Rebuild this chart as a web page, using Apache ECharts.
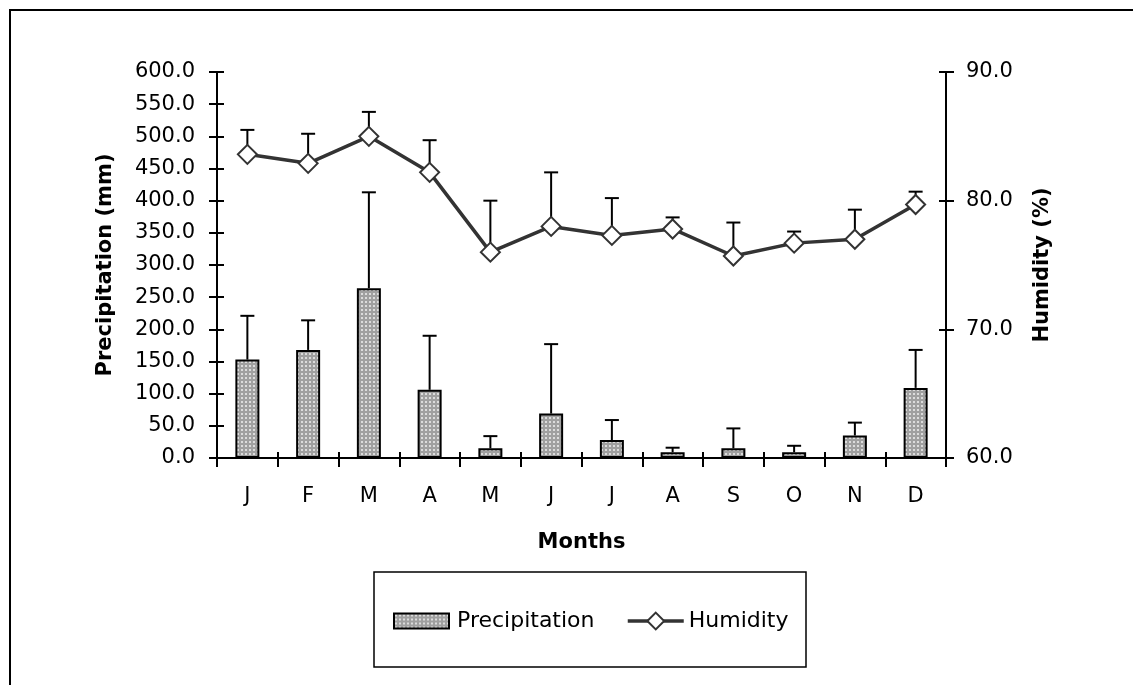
<!DOCTYPE html>
<html>
<head>
<meta charset="utf-8">
<script src="https://cdn.jsdelivr.net/npm/echarts@6/dist/echarts.min.js"></script>
<style>html,body{margin:0;padding:0;background:#fff;}#c{width:1133px;height:685px;}</style>
</head>
<body>
<div id="c"></div>
<script>
var months = ['J','F','M','A','M','J','J','A','S','O','N','D'];
var precipitation = [153, 168, 264, 106, 15, 69, 28, 9, 15, 9, 35, 109];
var precipitationSD = [68, 46, 149, 84, 19, 108, 31, 7, 31, 10, 20, 59];
var humidity = [83.6, 82.9, 85.0, 82.2, 76.0, 78.0, 77.3, 77.8, 75.7, 76.7, 77.0, 79.7];
var humiditySD = [1.9, 2.3, 1.9, 2.5, 4.0, 4.2, 2.9, 0.9, 2.6, 0.9, 2.3, 1.0];
var precipTicks = {min: 0, max: 600, interval: 50};
var humTicks = {min: 60, max: 90, interval: 10};

var FONT = 'DejaVu Sans';

var pc = document.createElement('canvas');
pc.width = 4; pc.height = 4;
var pctx = pc.getContext('2d');
pctx.fillStyle = '#a0a0a0'; pctx.fillRect(0, 0, 4, 4);
pctx.fillStyle = '#dcdcdc'; pctx.fillRect(1, 1, 2, 2);
var barFill = {image: pc, repeat: 'repeat'};

function errData(mean, sd) {
  return mean.map(function (m, i) { return [i, m, m + sd[i]]; });
}
function errRender(params, api) {
  var p0 = api.coord([api.value(0), api.value(1)]);
  var p1 = api.coord([api.value(0), api.value(2)]);
  return {
    type: 'group',
    children: [
      {type: 'line', shape: {x1: p0[0], y1: p0[1], x2: p0[0], y2: p1[1]}, style: {stroke: '#000', lineWidth: 2}},
      {type: 'line', shape: {x1: p0[0] - 7, y1: p1[1], x2: p0[0] + 7, y2: p1[1]}, style: {stroke: '#000', lineWidth: 2}}
    ]
  };
}

var chart = echarts.init(document.getElementById('c'), null, {renderer: 'canvas'});
var labelStyle = {color: '#000', fontFamily: FONT, fontSize: 21};
var nameStyle = {color: '#000', fontFamily: FONT, fontSize: 21, fontWeight: 'bold'};
var axisLine = {show: true, lineStyle: {color: '#000', width: 2}};
var legendText = {color: '#000', fontFamily: FONT, fontSize: 22};

chart.setOption({
  animation: false,
  backgroundColor: '#fff',
  grid: {left: 217, top: 72, width: 729, height: 386, containLabel: false},
  graphic: [
    {type: 'rect', shape: {x: 10, y: 10, width: 1300, height: 900}, style: {fill: 'none', stroke: '#000', lineWidth: 2}, silent: true},
    {type: 'rect', shape: {x: 374, y: 572, width: 432, height: 95}, style: {fill: 'none', stroke: '#000', lineWidth: 1.5}, silent: true}
  ],
  legend: [
    {
      left: 393, top: 610, padding: 0,
      itemWidth: 55, itemHeight: 15,
      textStyle: Object.assign({padding: [0, 0, 0, 3]}, legendText),
      data: [{name: 'Precipitation', icon: 'rect'}]
    },
    {
      left: 626, top: 610, padding: 0,
      itemWidth: 56, itemHeight: 21,
      textStyle: legendText,
      lineStyle: {width: 3.5, color: '#333'},
      data: ['Humidity']
    }
  ],
  xAxis: [
    {
      type: 'category', data: months, boundaryGap: true,
      name: 'Months', nameLocation: 'middle', nameGap: 74, nameTextStyle: nameStyle,
      axisLine: axisLine,
      axisTick: {show: true, inside: false, length: 9, lineStyle: {color: '#000', width: 2}},
      axisLabel: Object.assign({margin: 28}, labelStyle)
    },
    {
      type: 'category', data: months, boundaryGap: true, position: 'bottom',
      axisLine: {show: false},
      axisTick: {show: true, inside: true, length: 6, lineStyle: {color: '#000', width: 2}},
      axisLabel: {show: false}
    }
  ],
  yAxis: [
    {
      type: 'value', position: 'left', min: precipTicks.min, max: precipTicks.max, interval: precipTicks.interval,
      name: 'Precipitation (mm)', nameLocation: 'middle', nameGap: 101, nameRotate: 90, nameTextStyle: nameStyle,
      axisLine: axisLine, splitLine: {show: false},
      axisTick: {show: true, inside: false, length: 8, lineStyle: {color: '#000', width: 2}},
      axisLabel: Object.assign({margin: 22, formatter: function (v) { return v.toFixed(1); }}, labelStyle)
    },
    {
      type: 'value', position: 'right', min: humTicks.min, max: humTicks.max, interval: humTicks.interval,
      name: 'Humidity (%)', nameLocation: 'middle', nameGap: 86, nameRotate: 90, nameTextStyle: nameStyle,
      axisLine: axisLine, splitLine: {show: false},
      axisTick: {show: true, inside: false, length: 8, lineStyle: {color: '#000', width: 2}},
      axisLabel: Object.assign({margin: 20, formatter: function (v) { return v.toFixed(1); }}, labelStyle)
    },
    {
      type: 'value', position: 'left', min: precipTicks.min, max: precipTicks.max, interval: precipTicks.interval,
      axisLine: {show: false}, splitLine: {show: false}, axisLabel: {show: false},
      axisTick: {show: true, inside: true, length: 7, lineStyle: {color: '#000', width: 2}}
    },
    {
      type: 'value', position: 'right', min: humTicks.min, max: humTicks.max, interval: humTicks.interval,
      axisLine: {show: false}, splitLine: {show: false}, axisLabel: {show: false},
      axisTick: {show: true, inside: true, length: 7, lineStyle: {color: '#000', width: 2}}
    }
  ],
  series: [
    {
      name: 'Precipitation', type: 'bar', xAxisIndex: 0, yAxisIndex: 0, data: precipitation,
      barWidth: 24, z: 2,
      itemStyle: {color: barFill, borderColor: '#000', borderWidth: 2}
    },
    {
      name: 'PrecipErr', type: 'custom', xAxisIndex: 0, yAxisIndex: 0, z: 3,
      data: errData(precipitation, precipitationSD), renderItem: errRender,
      encode: {x: 0, y: [1, 2]}
    },
    {
      name: 'HumErr', type: 'custom', xAxisIndex: 0, yAxisIndex: 1, z: 3,
      data: errData(humidity, humiditySD), renderItem: errRender,
      encode: {x: 0, y: [1, 2]}
    },
    {
      name: 'Humidity', type: 'line', xAxisIndex: 0, yAxisIndex: 1, data: humidity, z: 5,
      symbol: 'diamond', symbolSize: 19,
      lineStyle: {color: '#333', width: 3.5},
      itemStyle: {color: '#fff', borderColor: '#333', borderWidth: 2}
    }
  ]
});
</script>
</body>
</html>
